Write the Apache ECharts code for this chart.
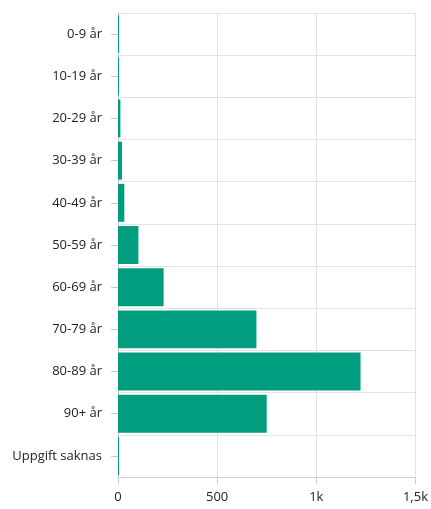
<!DOCTYPE html>
<html><head><meta charset="utf-8">
<script src="https://cdn.jsdelivr.net/npm/echarts@6/dist/echarts.min.js"></script>
<style>html,body{margin:0;padding:0;background:#fff}#c{width:431px;height:509px}</style>
</head><body><div id="c"></div>
<script>
const categories = ["0-9 år","10-19 år","20-29 år","30-39 år","40-49 år","50-59 år","60-69 år","70-79 år","80-89 år","90+ år","Uppgift saknas"];
const values = [5, 5, 12, 20, 32, 103, 230, 698, 1223, 750, 5];
const tickValues = [0, 500, 1000, 1500];

const chart = echarts.init(document.getElementById('c'));
const font = '"Open Sans", sans-serif';
chart.setOption({
  animation: false,
  grid: {left: 118, right: 13, top: 13, bottom: 32, containLabel: false},
  xAxis: {
    type: 'value', min: 0, max: 1500, interval: 500,
    axisLine: {show: true, lineStyle: {color: '#ccc'}},
    axisTick: {show: true, length: 7, lineStyle: {color: '#ccc'}},
    splitLine: {show: true, lineStyle: {color: '#e3e3e3'}},
    axisLabel: {color: '#222', fontFamily: font, fontSize: 13, margin: 14,
      formatter: v => v >= 1000 ? String(v/1000).replace('.', ',') + 'k' : String(v)}
  },
  yAxis: {
    type: 'category', data: categories, inverse: true,
    axisLine: {show: true, lineStyle: {color: '#ccc'}},
    axisTick: {show: true, alignWithLabel: true, length: 7, lineStyle: {color: '#ccc'}},
    splitLine: {show: true, lineStyle: {color: '#e3e3e3'}},
    axisLabel: {color: '#222', fontFamily: font, fontSize: 13, margin: 16}
  },
  series: [{
    type: 'bar', data: values, barCategoryGap: '10%',
    itemStyle: {color: '#009e7e'}
  }]
});
</script></body></html>
